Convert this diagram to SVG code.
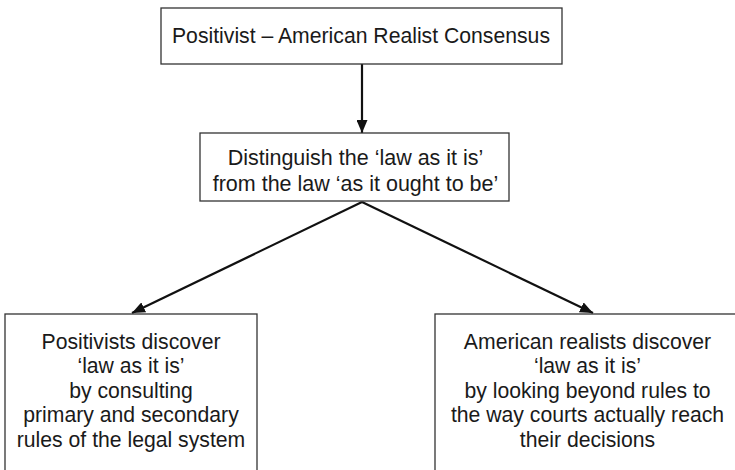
<svg xmlns="http://www.w3.org/2000/svg" width="735" height="470" viewBox="0 0 735 470">
<defs>
<marker id="ah" viewBox="0 0 13 11" refX="13" refY="5.5" markerWidth="13" markerHeight="11" markerUnits="userSpaceOnUse" orient="auto">
<path d="M0,0 L13,5.5 L0,11 Z" fill="#111"/>
</marker>
</defs>
<style>
.box{fill:#fff;stroke:#333;stroke-width:1.3}
.t{font-family:"Liberation Sans",Arial,sans-serif;font-size:21.2px;fill:#1a1a1a;text-anchor:middle}
.m{font-size:21.5px}
.c{stroke:#111;stroke-width:2.2;fill:none;marker-end:url(#ah)}
</style>
<rect width="735" height="470" fill="#fff"/>
<g id="connectors">
<line class="c" x1="362" y1="64" x2="362" y2="133"/>
<line class="c" x1="362" y1="202" x2="132" y2="313"/>
<line class="c" x1="362" y1="202" x2="593" y2="313"/>
</g>
<g id="n1">
<rect class="box" x="161" y="8" width="401" height="56"/>
<text class="t" x="361" y="43">Positivist – American Realist Consensus</text>
</g>
<g id="n2">
<rect class="box" x="200" y="133" width="309" height="68"/>
<text class="t m" x="355.5" y="165">Distinguish the ‘law as it is’</text>
<text class="t m" x="355.5" y="190.5">from the law ‘as it ought to be’</text>
</g>
<g id="n3">
<rect class="box" x="5" y="314" width="252" height="170"/>
<text class="t" x="131" y="348.5">Positivists discover</text>
<text class="t" x="131" y="373">‘law as it is’</text>
<text class="t" x="131" y="397.5">by consulting</text>
<text class="t" x="131" y="422">primary and secondary</text>
<text class="t" x="131" y="446.5">rules of the legal system</text>
</g>
<g id="n4">
<rect class="box" x="435" y="314" width="305" height="170"/>
<text class="t" x="587.5" y="348.5">American realists discover</text>
<text class="t" x="587.5" y="373">‘law as it is’</text>
<text class="t" x="587.5" y="397.5">by looking beyond rules to</text>
<text class="t" x="587.5" y="422">the way courts actually reach</text>
<text class="t" x="587.5" y="446.5">their decisions</text>
</g>
</svg>
